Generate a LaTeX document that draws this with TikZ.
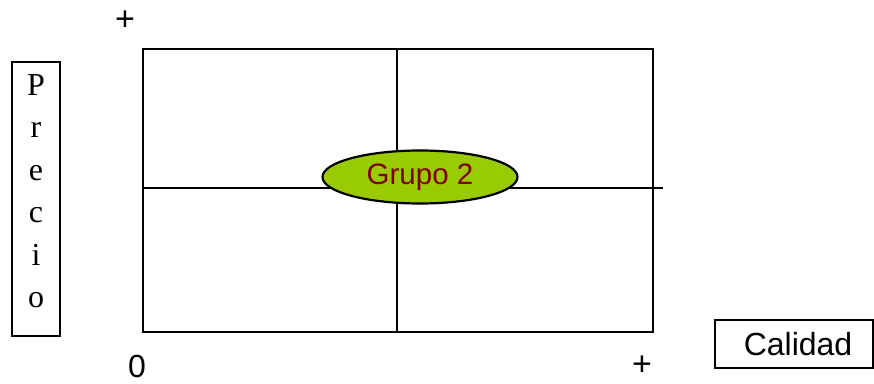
\documentclass[tikz,border=0pt]{standalone}
\usepackage{fontspec}
\setmainfont{Liberation Serif}
\newfontfamily\arialfont{Liberation Sans}
\usepackage{xcolor}
\definecolor{grupofill}{HTML}{99CC00}
\definecolor{grupotext}{HTML}{800000}
\usetikzlibrary{shapes.geometric}

\begin{document}
\begin{tikzpicture}[x=1pt,y=-1pt,
  frame/.style={line width=2.2pt},
  box/.style={draw,line width=2.2pt,inner sep=0pt},
  lab/.style={font=\arialfont\fontsize{32}{38}\selectfont},
  grupo/.style={ellipse,draw,line width=2.2pt,fill=grupofill,minimum width=195pt,
    minimum height=53pt,inner sep=0pt,text=grupotext,font=\arialfont\fontsize{29.5}{34}\selectfont}]
\useasboundingbox (0,0) rectangle (874,383);
% quadrants
\coordinate (tl) at (143,49);
\coordinate (br) at (653,332);
\coordinate (top) at (397,49);
\coordinate (bot) at (397,332);
\coordinate (left) at (143,188);
\coordinate (right) at (663,188);
\draw[frame] (tl) rectangle (br);
\draw[frame] (top) -- (bot);
\draw[frame] (left) -- (right);
\node[grupo] (g2) at (420,177) {Grupo 2\hspace{12pt}};
% axis labels
\node[box,minimum width=48pt,minimum height=274pt] (preciobox) at (36,199) {};
\node[font=\fontsize{32}{42.5}\selectfont,align=center] (precio) at (36,191) {P\\r\\e\\c\\i\\o};
\node[box,lab,minimum width=158pt,minimum height=48pt] (calidad) at (794,344) {\hspace{8pt}Calidad};
\node[lab] (cero) at (137,366) {0};
\node[lab,font=\arialfont\fontsize{34}{38}\selectfont] (masx) at (642,366) {+};
\node[lab,font=\arialfont\fontsize{34}{38}\selectfont] (masy) at (125,21) {+};
\end{tikzpicture}
\end{document}
